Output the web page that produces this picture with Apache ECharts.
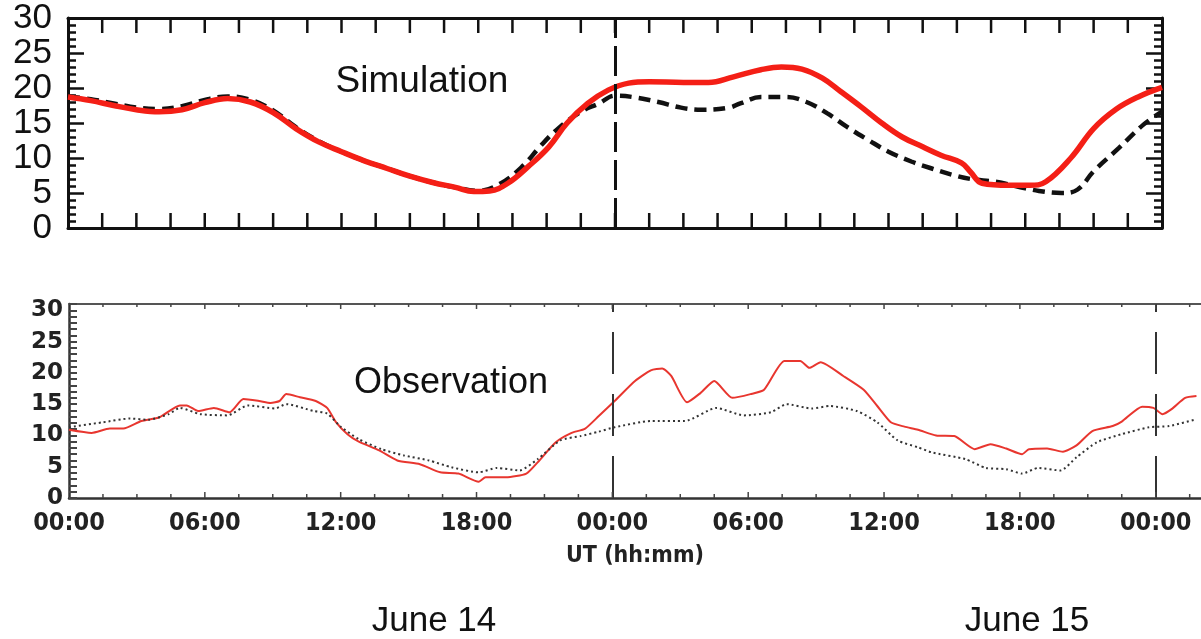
<!DOCTYPE html>
<html>
<head>
<meta charset="utf-8">
<script src="https://cdn.jsdelivr.net/npm/echarts@6/dist/echarts.min.js"></script>
<style>
  html, body { margin: 0; padding: 0; background: #fff; }
  #main { width: 1201px; height: 639px; }
</style>
</head>
<body>
<div id="main"></div>
<script>
// Simulation panel (hours since 00:00 June 14)
var simRedHours = [0, 1, 2, 3, 4, 5, 6, 7, 8, 9, 10, 11, 12, 13, 14, 15, 16, 17, 17.8, 18.5, 19.3, 20.2, 21.1, 21.9, 22.8, 23.7, 24.6, 25.5, 27, 28.1, 29.2, 30.4, 31.3, 32.2, 33.1, 33.9, 34.8, 35.7, 36.6, 37.5, 38.3, 39.2, 39.6, 40.1, 41.3, 42.2, 42.9, 44, 45, 46, 47, 48];
var simRedVals = [18.7, 18.2, 17.5, 16.9, 16.6, 16.9, 17.9, 18.5, 18.0, 16.5, 14.2, 12.3, 10.9, 9.6, 8.5, 7.4, 6.5, 5.8, 5.2, 5.3, 6.4, 8.8, 11.6, 15.0, 17.8, 19.7, 20.7, 20.9, 20.8, 20.8, 21.6, 22.6, 23.0, 22.7, 21.4, 19.5, 17.3, 15.0, 13.0, 11.6, 10.4, 9.3, 8.0, 6.4, 6.1, 6.1, 6.6, 10.0, 14.2, 17.0, 18.8, 20.1];
var simBlackHours = [0, 1, 2, 3, 4, 5, 6, 7, 8, 9, 10, 11, 12, 13, 14, 15, 16, 17, 18, 19, 20, 20.7, 21.5, 22.5, 23.3, 24, 24.8, 25.9, 26.9, 27.8, 29, 29.5, 30.4, 31.5, 32.4, 33.3, 34.2, 35.1, 36, 37, 37.9, 38.8, 39.6, 40.7, 41.7, 42.6, 43.6, 44.3, 45, 46.1, 47.2, 48];
var simBlackVals = [18.8, 18.4, 17.8, 17.2, 17.0, 17.4, 18.3, 18.8, 18.3, 16.8, 14.4, 12.4, 10.9, 9.6, 8.5, 7.4, 6.5, 5.8, 5.3, 6.4, 9.0, 11.6, 14.2, 16.6, 17.8, 18.9, 18.7, 18.0, 17.2, 16.9, 17.2, 17.8, 18.7, 18.7, 18.0, 16.4, 14.4, 12.6, 10.9, 9.5, 8.5, 7.6, 7.0, 6.6, 5.9, 5.3, 5.0, 5.5, 8.1, 11.4, 14.8, 16.6];

// Observation panel
var obsRedHours = [0, 1, 1.8, 2.4, 3.2, 4, 4.9, 5.2, 5.7, 6.4, 7.1, 7.7, 8.4, 8.9, 9.3, 9.6, 10.2, 10.9, 11.4, 11.8, 12.3, 12.8, 13.7, 14.5, 15.5, 16.4, 17.2, 18.1, 18.4, 19.3, 20.2, 20.7, 21.5, 22.2, 22.8, 23.4, 24.1, 25, 25.7, 26.2, 26.6, 27.3, 27.9, 28.5, 29.3, 30.1, 30.7, 31.6, 32.3, 32.7, 33.2, 34.2, 35.1, 35.7, 36.3, 36.9, 37.5, 38.3, 39.1, 40, 40.7, 41.4, 42.1, 42.4, 43.2, 43.9, 44.5, 45.2, 46.1, 46.5, 47.4, 47.9, 48.3, 48.7, 49.3, 49.8];
var obsRedVals = [10.9, 10.4, 11.1, 11.1, 12.3, 12.9, 14.8, 14.8, 13.9, 14.4, 13.7, 15.8, 15.5, 15.2, 15.5, 16.6, 16.1, 15.5, 14.4, 12.1, 10.2, 9.0, 7.6, 6.0, 5.4, 4.1, 3.9, 2.6, 3.3, 3.3, 3.9, 5.7, 8.9, 10.4, 11.1, 13.1, 15.5, 18.7, 20.4, 20.7, 19.5, 15.3, 16.8, 18.7, 16.0, 16.6, 17.3, 21.9, 21.9, 20.8, 21.7, 19.5, 17.3, 14.7, 12.1, 11.4, 10.9, 10.0, 9.9, 7.8, 8.6, 7.9, 7.0, 7.8, 7.9, 7.4, 8.4, 10.7, 11.5, 12.2, 14.6, 14.4, 13.4, 14.2, 16.0, 16.3];
var obsBlackHours = [0, 1.5, 2.7, 3.5, 4.4, 4.9, 5.8, 7, 7.9, 9.1, 9.6, 10.8, 11.4, 12, 12.8, 13.8, 14.8, 15.9, 16.9, 18.1, 18.9, 19.9, 20.7, 21.7, 22.6, 23.4, 24.1, 25.7, 27.2, 28.6, 29.8, 31, 31.7, 32.8, 33.6, 34.8, 35.7, 36.6, 37.5, 38.1, 39.6, 40.5, 41.4, 42.1, 42.8, 43.8, 44.5, 45.4, 46.5, 47.7, 48.6, 49.8];
var obsBlackVals = [11.3, 12.1, 12.7, 12.5, 13.4, 14.4, 13.4, 13.2, 14.8, 14.3, 15.0, 13.9, 13.5, 11.4, 9.4, 7.8, 6.8, 6.0, 4.9, 4.1, 4.8, 4.4, 6.2, 9.2, 9.9, 10.6, 11.3, 12.3, 12.3, 14.4, 13.2, 13.7, 15.0, 14.3, 14.7, 13.9, 12.1, 9.2, 8.1, 7.3, 6.2, 4.8, 4.6, 3.9, 4.8, 4.4, 6.5, 8.9, 10.2, 11.3, 11.5, 12.6];

var dayMarks = [24, 48];
var dayLabels = ['June 14', 'June 15'];
var tickStep = 1.5; // hours between time ticks on the box edges

function pairs(xs, ys) {
  return xs.map(function (x, i) { return [x, ys[i]]; });
}
function hhmm(v) {
  var h = Math.round(v) % 24;
  return (h < 10 ? '0' : '') + h + ':00';
}

var ink = '#111';
var narrow = "'Liberation Sans Narrow', 'DejaVu Sans Condensed', sans-serif";
var sans = "'Liberation Sans', Arial, sans-serif";

function edgeX(grid, pos, color, width, extra) {
  return Object.assign({
    gridIndex: grid, type: 'value', position: pos,
    axisLine: { onZero: false, lineStyle: { color: color, width: width } },
    axisTick: { show: false },
    axisLabel: { show: false }, splitLine: { show: false }
  }, extra);
}

var myChart = echarts.init(document.getElementById('main'), null, { renderer: 'canvas' });

myChart.setOption({
  animation: false,
  grid: [
    { left: 68, top: 18, width: 1094, height: 210 },
    { left: 69, top: 304, width: 1137.5, height: 194 }
  ],
  xAxis: [
    edgeX(0, 'bottom', ink, 3, { min: 0, max: 48, interval: 1.5 }),
    edgeX(0, 'top', ink, 3, { min: 0, max: 48, interval: 1.5 }),
    edgeX(1, 'bottom', '#333', 2.5, {
      min: 0, max: 50, interval: 6,
      axisLabel: {
        show: true, margin: 13, color: '#222', fontFamily: narrow, fontWeight: 'bold', fontSize: 25,
        showMaxLabel: false, formatter: hhmm
      },
      name: 'UT (hh:mm)', nameLocation: 'middle', nameGap: 47,
      nameTextStyle: { color: '#222', fontFamily: narrow, fontWeight: 'bold', fontSize: 23 }
    }),
    edgeX(1, 'top', '#555', 2, { min: 0, max: 50, interval: 6 })
  ],
  yAxis: [
    {
      gridIndex: 0, type: 'value', min: 0, max: 30, interval: 5, position: 'left',
      axisLine: { show: true, onZero: false, lineStyle: { color: ink, width: 3 } },
      axisTick: { show: true, inside: true, length: 16, lineStyle: { color: ink, width: 2.5 } },
      minorTick: { show: true, splitNumber: 5, length: 8, lineStyle: { color: ink, width: 2.5 } },
      axisLabel: { margin: 16, color: ink, fontFamily: sans, fontSize: 35 },
      splitLine: { show: false }
    },
    {
      gridIndex: 0, type: 'value', min: 0, max: 30, interval: 5, position: 'right',
      axisLine: { show: true, onZero: false, lineStyle: { color: ink, width: 3 } },
      axisTick: { show: true, inside: true, length: 16, lineStyle: { color: ink, width: 2.5 } },
      minorTick: { show: true, splitNumber: 5, length: 8, lineStyle: { color: ink, width: 2.5 } },
      axisLabel: { show: false }, splitLine: { show: false }
    },
    {
      gridIndex: 1, type: 'value', min: 0, max: 31, interval: 1, position: 'left',
      axisLine: { show: true, onZero: false, lineStyle: { color: '#333', width: 2.5 } },
      axisTick: { show: true, inside: true, length: 8, lineStyle: { color: '#444', width: 2 } },
      axisLabel: {
        margin: 6, color: '#222', fontFamily: "'DejaVu Sans', sans-serif",
        fontWeight: 'bold', fontSize: 23,
        formatter: function (v) { return v % 5 === 0 ? String(v) : ''; }
      },
      splitLine: { show: false }
    }
  ],
  series: [
    {
      name: 'Simulation baseline', type: 'line', xAxisIndex: 0, yAxisIndex: 0,
      data: pairs(simBlackHours, simBlackVals), smooth: 0.4, symbol: 'none',
      lineStyle: { color: ink, width: 4.5, type: [12, 7] },
      markLine: {
        silent: true, symbol: 'none', label: { show: false },
        lineStyle: { color: ink, width: 3, type: [30, 8] },
        data: [{ xAxis: dayMarks[0] }]
      }
    },
    {
      name: 'Simulation', type: 'line', xAxisIndex: 0, yAxisIndex: 0,
      data: pairs(simRedHours, simRedVals), smooth: 0.4, symbol: 'none',
      lineStyle: { color: '#f41f16', width: 5.5 }
    },
    {
      name: 'Observation', type: 'line', xAxisIndex: 2, yAxisIndex: 2,
      data: pairs(obsRedHours, obsRedVals), smooth: 0.2, symbol: 'none',
      lineStyle: { color: '#e8362f', width: 2 },
      markLine: {
        silent: true, symbol: 'none', label: { show: false },
        lineStyle: { color: '#333', width: 2, type: [42, 20] },
        data: dayMarks.map(function (d) { return { xAxis: d }; })
      }
    },
    {
      name: 'Observation baseline', type: 'line', xAxisIndex: 2, yAxisIndex: 2,
      data: pairs(obsBlackHours, obsBlackVals), smooth: 0.2, symbol: 'none',
      lineStyle: { color: '#333', width: 2, type: [2, 3] }
    }
  ]
});

// panel texts
var texts = [
  { type: 'text', x: 422, y: 82, style: { text: 'Simulation', fill: ink, font: '37px ' + sans, textAlign: 'center', textVerticalAlign: 'middle' } },
  { type: 'text', x: 451, y: 383, style: { text: 'Observation', fill: ink, font: '36px ' + sans, textAlign: 'center', textVerticalAlign: 'middle' } },
  { type: 'text', x: 434, y: 621, style: { text: dayLabels[0], fill: ink, font: '35px ' + sans, textAlign: 'center', textVerticalAlign: 'middle' } },
  { type: 'text', x: 1027, y: 621, style: { text: dayLabels[1], fill: ink, font: '35px ' + sans, textAlign: 'center', textVerticalAlign: 'middle' } }
];

// inward time ticks on the top and bottom edge of each panel, placed
// through the axes with convertToPixel
function edgeTicks(xi, yi, maxH, yMin, yMax, lenBottom, lenTop, minorBottom, minorTop, color, width) {
  var els = [];
  var finder = { xAxisIndex: xi, yAxisIndex: yi };
  for (var t = tickStep; t < maxH - 1e-6; t += tickStep) {
    var major = Math.abs(t / 6 - Math.round(t / 6)) < 1e-6;
    var lo = myChart.convertToPixel(finder, [t, yMin]);
    var hi = myChart.convertToPixel(finder, [t, yMax]);
    if (!lo || !hi) continue;
    var lb = major ? lenBottom : minorBottom;
    var lt = major ? lenTop : minorTop;
    els.push({ type: 'line', z: 50, silent: true,
      shape: { x1: lo[0], y1: lo[1], x2: lo[0], y2: lo[1] - lb },
      style: { stroke: color, lineWidth: width } });
    els.push({ type: 'line', z: 50, silent: true,
      shape: { x1: hi[0], y1: hi[1], x2: hi[0], y2: hi[1] + lt },
      style: { stroke: color, lineWidth: width } });
  }
  return els;
}

var ticks = edgeTicks(0, 0, 48, 0, 30, 15, 15, 15, 15, ink, 2.5)
  .concat(edgeTicks(2, 2, 50, 0, 31, 6, 5, 4, 3, '#444', 1.5));

myChart.setOption({ graphic: texts.concat(ticks) });
</script>
</body>
</html>
